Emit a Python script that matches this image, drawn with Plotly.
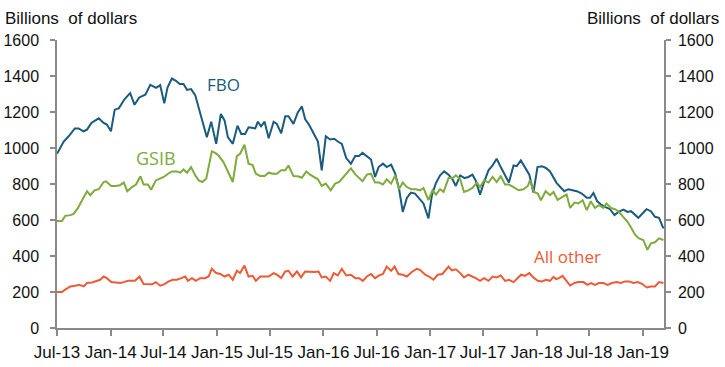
import pandas as pd
import plotly.graph_objects as go

START = "2013-07-01"

# Observation dates as days since 1 Jul 2013, with values in billions of dollars
fbo_days = [0, 11, 23, 40, 61, 74, 91, 103, 118, 143, 160, 171, 185, 198, 212, 232, 251, 266, 282, 303,
            320, 340, 354, 368, 379, 394, 408, 421, 434, 446, 460, 474, 491, 503, 514, 529, 546, 562, 575,
            586, 603, 619, 632, 645, 657, 668, 680, 689, 700, 712, 726, 743, 754, 769, 783, 794, 811, 826,
            840, 851, 865, 880, 895, 908, 922, 937, 951, 963, 977, 992, 1008, 1023, 1036, 1048, 1063, 1077,
            1091, 1103, 1118, 1131, 1146, 1160, 1173, 1186, 1200, 1214, 1228, 1243, 1257, 1274, 1286, 1299,
            1314, 1328, 1343, 1357, 1368, 1383, 1398, 1411, 1425, 1436, 1451, 1465, 1480, 1494, 1508, 1522,
            1537, 1550, 1566, 1577, 1591, 1605, 1620, 1634, 1648, 1663, 1677, 1691, 1704, 1714, 1731, 1740,
            1754, 1768, 1783, 1800, 1817, 1828, 1840, 1853, 1866, 1880, 1897, 1912, 1926, 1943, 1957, 1969,
            1980, 1994, 2008, 2022, 2037, 2051, 2065, 2080]
fbo_vals = [968, 1004, 1036, 1065, 1109, 1109, 1093, 1102, 1139, 1165, 1139, 1130, 1093, 1213, 1220, 1272,
            1305, 1240, 1281, 1296, 1351, 1334, 1349, 1248, 1336, 1386, 1373, 1355, 1355, 1323, 1327, 1294,
            1189, 1124, 1060, 1146, 1023, 1189, 1152, 1060, 1023, 1124, 1078, 1078, 1115, 1112, 1109, 1146,
            1120, 1146, 1054, 1146, 1134, 1082, 1176, 1176, 1134, 1198, 1231, 1161, 1128, 1082, 1036, 876,
            1065, 1047, 1051, 1036, 1023, 944, 913, 955, 955, 973, 955, 936, 839, 894, 913, 894, 907, 858,
            775, 645, 723, 752, 747, 715, 692, 609, 738, 802, 848, 870, 852, 825, 789, 848, 833, 839, 852,
            820, 741, 811, 876, 903, 940, 894, 848, 808, 903, 899, 931, 894, 852, 752, 894, 899, 889, 870,
            835, 805, 775, 760, 771, 765, 760, 747, 723, 723, 750, 704, 686, 673, 660, 627, 645, 658, 645,
            649, 631, 612, 636, 660, 649, 618, 612, 553]

gsib_days = [0, 17, 28, 46, 57, 72, 86, 103, 114, 129, 143, 160, 168, 186, 202, 215, 229, 241, 257, 271,
             286, 297, 312, 323, 339, 354, 366, 381, 394, 411, 423, 434, 446, 460, 474, 486, 499, 512, 531,
             543, 554, 571, 589, 603, 617, 628, 643, 657, 671, 682, 697, 712, 726, 740, 754, 769, 783, 794,
             811, 826, 840, 855, 868, 883, 895, 908, 922, 939, 954, 968, 983, 994, 1008, 1024, 1048, 1063,
             1077, 1091, 1105, 1118, 1131, 1146, 1160, 1173, 1186, 1200, 1215, 1231, 1245, 1257, 1274, 1288,
             1300, 1314, 1326, 1343, 1357, 1368, 1383, 1396, 1411, 1425, 1440, 1451, 1465, 1480, 1494, 1508,
             1522, 1537, 1550, 1566, 1583, 1600, 1615, 1622, 1636, 1649, 1660, 1676, 1691, 1703, 1717, 1734,
             1748, 1760, 1775, 1788, 1803, 1817, 1831, 1845, 1859, 1874, 1885, 1900, 1914, 1925, 1943, 1957,
             1971, 1982, 1996, 2011, 2025, 2037, 2051, 2065, 2080]
gsib_vals = [594, 594, 623, 627, 634, 667, 710, 760, 738, 765, 771, 811, 815, 789, 789, 793, 808, 760, 783,
             797, 843, 797, 797, 768, 820, 830, 839, 857, 870, 870, 863, 881, 863, 894, 848, 820, 811, 830,
             981, 973, 958, 922, 857, 811, 955, 968, 1018, 913, 905, 857, 844, 844, 863, 857, 857, 876, 876,
             903, 844, 843, 835, 870, 852, 839, 826, 789, 802, 765, 802, 811, 839, 857, 887, 852, 815, 852,
             857, 808, 808, 797, 826, 802, 848, 771, 808, 783, 771, 771, 765, 778, 710, 765, 741, 771, 756,
             833, 833, 848, 826, 756, 765, 778, 808, 783, 820, 808, 839, 811, 844, 797, 797, 783, 765, 771,
             789, 820, 756, 747, 710, 760, 738, 756, 712, 728, 741, 667, 697, 692, 710, 655, 704, 667, 682,
             667, 692, 667, 660, 649, 618, 590, 553, 520, 498, 489, 434, 470, 476, 498, 489]

other_days = [0, 17, 28, 46, 63, 76, 92, 103, 120, 137, 148, 160, 171, 186, 203, 217, 229, 243, 267, 283,
              297, 312, 326, 339, 354, 369, 383, 397, 411, 426, 440, 449, 463, 476, 491, 508, 520, 531, 546,
              560, 575, 589, 603, 617, 628, 643, 657, 671, 682, 697, 712, 726, 743, 754, 769, 783, 794, 808,
              823, 837, 851, 865, 883, 897, 908, 922, 937, 949, 963, 977, 992, 1008, 1023, 1036, 1049, 1063,
              1077, 1091, 1105, 1118, 1131, 1146, 1158, 1171, 1186, 1200, 1217, 1234, 1245, 1263, 1276, 1291,
              1306, 1322, 1343, 1354, 1368, 1383, 1396, 1411, 1425, 1436, 1451, 1465, 1480, 1494, 1508, 1522,
              1537, 1550, 1566, 1579, 1592, 1605, 1620, 1634, 1649, 1663, 1677, 1691, 1703, 1712, 1722, 1734,
              1745, 1760, 1775, 1788, 1806, 1819, 1832, 1845, 1859, 1874, 1889, 1903, 1920, 1934, 1948, 1962,
              1977, 1992, 2008, 2023, 2037, 2051, 2065, 2080]
other_vals = [200, 200, 213, 231, 235, 240, 231, 250, 253, 262, 268, 286, 277, 255, 253, 250, 255, 262, 262,
              285, 244, 244, 243, 255, 235, 244, 259, 268, 268, 277, 286, 262, 277, 262, 277, 277, 286, 329,
              305, 300, 286, 296, 268, 318, 305, 347, 286, 290, 262, 286, 286, 286, 305, 296, 277, 314, 318,
              286, 314, 281, 314, 311, 311, 314, 281, 286, 262, 305, 292, 329, 292, 296, 277, 277, 262, 286,
              300, 277, 292, 300, 341, 318, 341, 300, 296, 286, 311, 329, 323, 296, 286, 268, 296, 300, 341,
              320, 326, 305, 281, 296, 286, 277, 262, 277, 262, 286, 281, 292, 262, 268, 255, 277, 296, 290,
              305, 281, 262, 259, 268, 262, 284, 272, 277, 290, 268, 236, 250, 255, 255, 240, 250, 240, 250,
              250, 240, 250, 255, 250, 259, 259, 250, 255, 244, 225, 231, 231, 255, 250]

tick_dates = ["2013-07-01", "2014-01-01", "2014-07-01", "2015-01-01", "2015-07-01", "2016-01-01",
              "2016-07-01", "2017-01-01", "2017-07-01", "2018-01-01", "2018-07-01", "2019-01-01"]
tick_labels = ["Jul-13", "Jan-14", "Jul-14", "Jan-15", "Jul-15", "Jan-16",
               "Jul-16", "Jan-17", "Jul-17", "Jan-18", "Jul-18", "Jan-19"]
y_ticks = [0, 200, 400, 600, 800, 1000, 1200, 1400, 1600]


def to_dates(days):
    return pd.Timestamp(START) + pd.to_timedelta(days, unit="D")


C_FBO = "#1a5b7e"
C_GSIB = "#7eab3c"
C_OTHER = "#ec5b35"
AX = "#8a8a8a"
FONT = "Liberation Sans, Arial, sans-serif"
LBL = "Open Sans, sans-serif"

fig = go.Figure()
fig.add_trace(go.Scatter(x=to_dates(fbo_days), y=fbo_vals, mode="lines", name="FBO",
                         line=dict(color=C_FBO, width=2)))
fig.add_trace(go.Scatter(x=to_dates(gsib_days), y=gsib_vals, mode="lines", name="GSIB",
                         line=dict(color=C_GSIB, width=2)))
fig.add_trace(go.Scatter(x=to_dates(other_days), y=other_vals, mode="lines", name="All other",
                         line=dict(color=C_OTHER, width=2)))
# invisible trace to activate the right-hand axis
fig.add_trace(go.Scatter(x=to_dates([0]), y=[0], yaxis="y2", mode="markers",
                         marker=dict(opacity=0), showlegend=False, hoverinfo="skip"))

fig.update_layout(
    width=725, height=367,
    margin=dict(l=57, r=61, t=40, b=39, autoexpand=False),
    paper_bgcolor="white", plot_bgcolor="white",
    showlegend=False,
    font=dict(family=FONT, size=16, color="#111111"),
    xaxis=dict(type="date", range=[to_dates([0])[0], to_dates([2082])[0]], automargin=False,
               tickvals=tick_dates, ticktext=tick_labels, ticks="outside", ticklen=6,
               tickcolor=AX, tickwidth=1.5, showline=True, linecolor=AX, linewidth=1.5,
               showgrid=False, zeroline=False, tickfont=dict(size=17), ticklabelstandoff=2),
    yaxis=dict(range=[0, 1600], tickvals=y_ticks, ticks="outside", ticklen=5, tickcolor=AX,
               tickwidth=1.5, showline=True, linecolor=AX, linewidth=1.5, showgrid=False,
               zeroline=False, tickfont=dict(size=16), automargin=False, ticklabelstandoff=8),
    yaxis2=dict(range=[0, 1600], tickvals=y_ticks, overlaying="y", side="right", ticks="outside",
                ticklen=5, tickcolor=AX, tickwidth=1.5, showline=True, linecolor=AX, linewidth=1.5,
                showgrid=False, zeroline=False, tickfont=dict(size=16), automargin=False,
                ticklabelstandoff=4),
)

fig.add_annotation(text="Billions  of dollars", xref="paper", yref="paper", x=-54/607, y=1.0,
                   yshift=22, xanchor="left", yanchor="middle", showarrow=False, font=dict(size=17))
fig.add_annotation(text="Billions  of dollars", xref="paper", yref="paper", x=1 + 57/607, y=1.0,
                   yshift=22, xanchor="right", yanchor="middle", showarrow=False, font=dict(size=17))
fig.add_annotation(text="FBO", x=to_dates([572])[0], y=1351, showarrow=False,
                   font=dict(family=LBL, size=17, color=C_FBO))
fig.add_annotation(text="GSIB", x=to_dates([339])[0], y=947, showarrow=False,
                   font=dict(family=LBL, size=18, color=C_GSIB))
fig.add_annotation(text="All other", x=to_dates([1752])[0], y=400, showarrow=False,
                   font=dict(family=LBL, size=17, color=C_OTHER))

fig.write_html("out.html", config={"displayModeBar": False},
               post_script="document.body.style.margin='0';document.body.style.overflow='hidden';")
